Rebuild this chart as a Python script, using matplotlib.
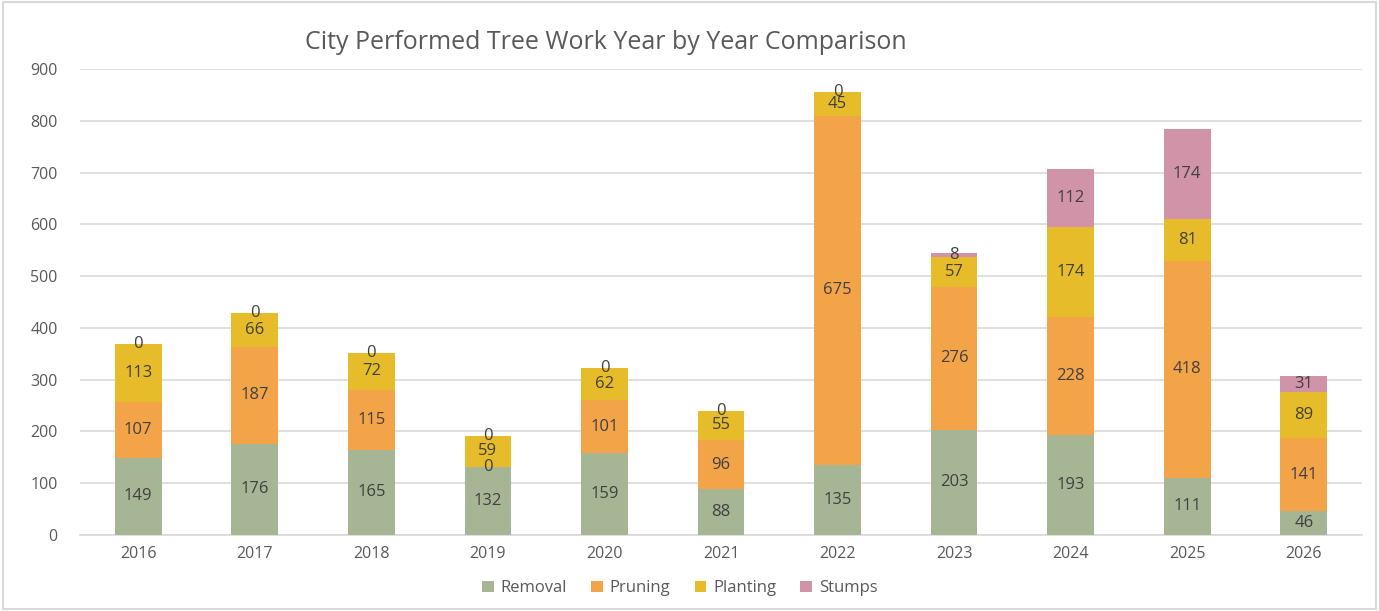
import matplotlib
matplotlib.use("Agg")
import matplotlib.pyplot as plt
from matplotlib.patches import Rectangle
import numpy as np

years = ["2016", "2017", "2018", "2019", "2020", "2021", "2022", "2023", "2024", "2025", "2026"]
removal = [149, 176, 165, 132, 159, 88, 135, 203, 193, 111, 46]
pruning = [107, 187, 115, 0, 101, 96, 675, 276, 228, 418, 141]
planting = [113, 66, 72, 59, 62, 55, 45, 57, 174, 81, 89]
stumps = [0, 0, 0, 0, 0, 0, 0, 8, 112, 174, 31]

series = [("Removal", removal, "#A6B593"),
          ("Pruning", pruning, "#F3A449"),
          ("Planting", planting, "#E6BC2A"),
          ("Stumps", stumps, "#D093A8")]

plt.rcParams['font.family'] = ['Open Sans', 'DejaVu Sans']
txt = "#404040"

fig = plt.figure(figsize=(13.79, 6.11), dpi=100)
ax = fig.add_axes([0.058, 0.1244, 0.9297, 0.7626])

x = np.arange(len(years))
bottom = np.zeros(len(years))
handles = []
for name, vals, col in series:
    v = np.array(vals, dtype=float)
    b = ax.bar(x, v, 0.4, bottom=bottom, color=col, label=name, zorder=3)
    handles.append(b)
    for xi, bi, vi in zip(x, bottom, v):
        ax.text(xi, bi + vi / 2, f"{int(vi)}", ha="center", va="center",
                fontsize=12, color=txt, zorder=4)
    bottom += v

ax.set_xlim(-0.5, len(years) - 0.5)
ax.set_ylim(0, 900)
ax.set_yticks(range(0, 901, 100))
ax.set_xticks(x)
ax.set_xticklabels(years)
ax.yaxis.grid(True, color="#D9D9D9", linewidth=1.2, zorder=0)
ax.set_axisbelow(True)
for s in ["top", "right", "left"]:
    ax.spines[s].set_visible(False)
ax.spines["bottom"].set_color("#D9D9D9")
ax.spines["bottom"].set_linewidth(1.2)
ax.tick_params(axis="both", length=0, labelsize=11.5, colors="#595959", pad=8)
ax.tick_params(axis="y", pad=16)

fig.text(0.439, 0.93, "City Performed Tree Work Year by Year Comparison",
         ha="center", va="center", fontsize=18, color="#595959")

leg = fig.legend(handles=handles, labels=[s[0] for s in series], loc="center",
                 bbox_to_anchor=(0.493, 0.037), ncol=4, frameon=False,
                 fontsize=12, handlelength=0.7, handleheight=0.7,
                 handletextpad=0.4, columnspacing=1.45)
for t in leg.get_texts():
    t.set_color("#595959")

fig.patches.append(Rectangle((0.002, 0.003), 0.996, 0.994, transform=fig.transFigure,
                             fill=False, edgecolor="#D9D9D9", linewidth=1.5))

fig.savefig("out.png", dpi=100)
